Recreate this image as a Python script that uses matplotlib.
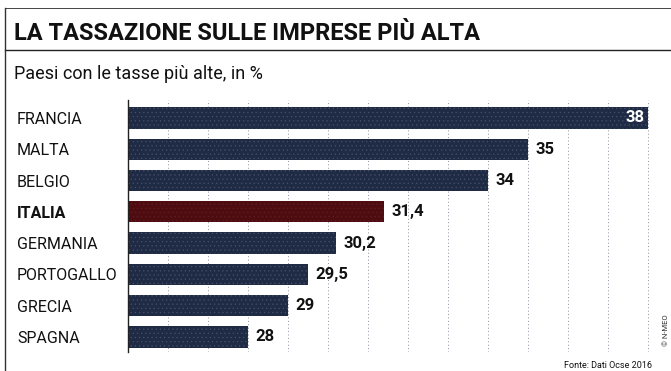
import matplotlib
matplotlib.use("Agg")
import matplotlib.pyplot as plt
from matplotlib.lines import Line2D

countries = ["FRANCIA", "MALTA", "BELGIO", "ITALIA", "GERMANIA", "PORTOGALLO", "GRECIA", "SPAGNA"]
values = [38, 35, 34, 31.4, 30.2, 29.5, 29, 28]
value_labels = ["38", "35", "34", "31,4", "30,2", "29,5", "29", "28"]
highlight = "ITALIA"

navy = "#1f2a44"
dark_red = "#4e0c10"
fam = ["Liberation Sans Narrow", "Roboto", "DejaVu Sans"]
plt.rcParams["hatch.linewidth"] = 0.4

fig = plt.figure(figsize=(6.71, 3.71), dpi=100)
W, H = 671, 371

def fx(px):
    return px / W

def fy(py):
    return 1 - py / H

# frame lines
fig.add_artist(Line2D([fx(5), fx(671)], [fy(8), fy(8)], color="#444444", lw=0.7))
fig.add_artist(Line2D([fx(5), fx(671)], [fy(50), fy(50)], color="#222222", lw=1.0))
fig.add_artist(Line2D([fx(5), fx(5)], [fy(8), fy(371)], color="#333333", lw=1.0))

fig.text(fx(14), fy(33), "LA TASSAZIONE SULLE IMPRESE PIÙ ALTA", family=fam,
         fontsize=17, fontweight="bold", va="center", ha="left", color="#111111")
fig.text(fx(14), fy(74), "Paesi con le tasse più alte, in %", family=fam,
         fontsize=13, va="center", ha="left", color="#111111")

ax = fig.add_axes([fx(128), fy(352), fx(650) - fx(128), (352 - 100) / H])
ypos = list(range(len(countries)))
for y, v, c in zip(ypos, values, countries):
    col = dark_red if c == highlight else navy
    hc = "#5a2024" if c == highlight else "#46506a"
    ax.barh(y, v, height=0.68, color=col, edgecolor=hc, linewidth=0,
            hatch="....", zorder=2)
ax.set_xlim(25, 38.05)
ax.set_ylim(7.48, -0.575)

for v in range(26, 39):
    ax.axvline(v, color="#8a92a0", lw=0.7, ls=(0, (1, 2.5)), zorder=1)

for y, v, lab, c in zip(ypos, values, value_labels, countries):
    if v >= 37.5:
        ax.text(v - 0.08, y, lab, color="white", fontweight="bold", family=fam,
                fontsize=12, va="center", ha="right", zorder=3)
    else:
        ax.text(v + 0.18, y, lab, color="#111111", fontweight="bold", family=fam,
                fontsize=12, va="center", ha="left", zorder=3)

ax.set_yticks(ypos)
ax.set_yticklabels(countries, family=fam, fontsize=11.5, color="#111111")
for lab in ax.get_yticklabels():
    lab.set_ha("left")
    if lab.get_text() == highlight:
        lab.set_fontweight("bold")
ax.tick_params(axis="y", length=0, pad=(128 - 17) * 72 / 100)
ax.set_xticks([])
for s in ["top", "right", "bottom"]:
    ax.spines[s].set_visible(False)
ax.spines["left"].set_color("#222222")
ax.spines["left"].set_linewidth(1.0)

fig.text(fx(652), fy(365), "Fonte: Dati Ocse 2016", family=fam, fontsize=6.5,
         ha="right", va="center", color="#111111")
fig.text(fx(666), fy(330), "© N-MEO", family=fam, fontsize=5.5, rotation=90,
         ha="center", va="center", color="#333333")

fig.savefig("out.png", dpi=100)
